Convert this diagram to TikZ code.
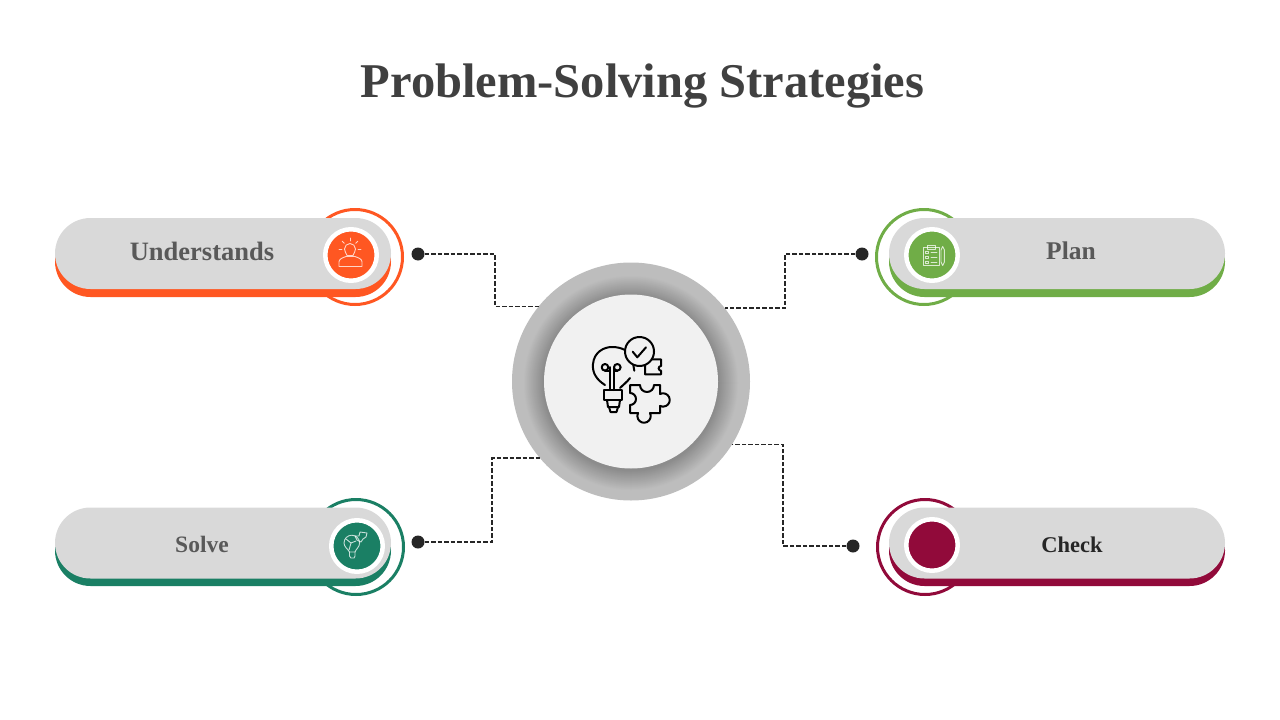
\documentclass[tikz,border=0pt]{standalone}
\usepackage{fontspec}
\setmainfont{Liberation Serif}
\definecolor{txtgrey}{HTML}{595959}
\definecolor{pillgrey}{HTML}{D9D9D9}
\definecolor{hubgrey}{HTML}{BDBDBD}
\definecolor{hubface}{HTML}{F1F1F1}
\definecolor{dotblack}{HTML}{262626}
\definecolor{cunder}{HTML}{FF5722}
\definecolor{cplan}{HTML}{70AD47}
\definecolor{csolve}{HTML}{1A7F64}
\definecolor{ccheck}{HTML}{910A3A}
\tikzset{
  pill/.style={rectangle, rounded corners=35.5pt, minimum width=336pt, minimum height=71pt, inner sep=0pt, outer sep=0pt, fill=#1},
  halo/.style={circle, minimum size=95pt, inner sep=0pt, draw=#1, line width=3pt},
  badge/.style={circle, minimum size=51.5pt, inner sep=0pt, fill=#1, draw=white, line width=4.5pt},
  pin/.style={circle, minimum size=13pt, inner sep=0pt, fill=dotblack},
  link/.style={draw=dotblack, line width=1.5pt, dash pattern=on 4.5pt off 2pt},
  lbl/.style={font=\bfseries\fontsize{#1}{#1}\selectfont, text=txtgrey},
  icon/.style={draw=black, line width=2pt, line cap=round, line join=round},
  mini/.style={draw=white, draw opacity=.75, line width=.9pt, line cap=round, line join=round}
}
\begin{document}
\begin{tikzpicture}[x=1pt,y=-1pt]
\useasboundingbox (0,0) rectangle (1280,720);
\node[font=\bfseries\fontsize{48.5}{48.5}\selectfont, text=black!75] (title) at (642.5,86) {Problem-Solving Strategies};
% hub
\node[circle, minimum size=238pt, inner sep=0pt, outer sep=0pt, fill=hubgrey] (hub) at (631,381.5) {};
\foreach \r in {108,107,...,88}{
  \pgfmathsetmacro{\mixval}{100-26*(108-\r)/20}
  \fill[hubgrey!\mixval!black] (631,383) circle (\r);
}
\node[circle, minimum size=174pt, inner sep=0pt, outer sep=0pt, fill=hubface] (core) at (631,381.5) {};
% connectors
\node[pin] (pinu) at (418,254) {};
\node[pin] (pinp) at (862,254) {};
\node[pin] (pins) at (418,542) {};
\node[pin] (pinc) at (853,546) {};
\coordinate (kneeu) at (495,280);
\coordinate (kneep) at (785,280);
\coordinate (knees) at (492,500);
\coordinate (kneec) at (783,500);
\draw[link] (pinu) -| (kneeu) |- (hub.141.24);
\draw[link] (pinp) -| (kneep) |- (hub.38.76);
\draw[link] (pins) -| (knees) |- (hub.220);
\draw[link] (pinc) -| (kneec) |- (hub.-32.26);
% understands
\node[halo=cunder] (halou) at (355,257) {};
\node[pill=cunder] (baseu) at (223,261.5) {};
\node[pill=pillgrey] (pillu) at (223,253.5) {};
\node[badge=cunder] (badgeu) at (351,255) {};
\node[lbl=26.5] (lblu) at (202,251) {Understands};
% plan
\node[halo=cplan] (halop) at (924,257) {};
\node[pill=cplan] (basep) at (1057,261.5) {};
\node[pill=pillgrey] (pillp) at (1057,253.5) {};
\node[badge=cplan] (badgep) at (932,255) {};
\node[lbl=25.5] (lblp) at (1071,251) {Plan};
% solve
\node[halo=csolve] (halos) at (356,547) {};
\node[pill=csolve] (bases) at (223,550.5) {};
\node[pill=pillgrey] (pills) at (223,543) {};
\node[badge=csolve] (badges) at (357,546) {};
\node[lbl=23.5] (lbls) at (202,544) {Solve};
% check
\node[halo=ccheck] (haloc) at (925,547) {};
\node[pill=ccheck] (basec) at (1057,550.5) {};
\node[pill=pillgrey] (pillc) at (1057,543) {};
\node[badge=ccheck] (badgec) at (932,545) {};
\node[lbl=22.5, text=dotblack] (lblc) at (1072,545) {Check};
% big icon
\draw[icon] (605,385) .. controls (597,380) and (592,373) .. (593,364) .. controls (594,352) and (604,347) .. (612,347) .. controls (617,347) and (621,348) .. (625,350);
\draw[icon] (630,378) .. controls (627,382) and (623,385) .. (620,388);
\draw[icon] (639.5,351.5) circle (14.5);
\draw[icon] (632.7,351.7) -- (637.3,357.3) -- (646,347.3);
\draw[icon] (605,367.3) circle (3.3);
\draw[icon] (617.3,367.3) circle (3.3);
\draw[icon] (605,370.6) -- (610,370.6) (617.3,370.6) -- (614,370.6);
\draw[icon] (610,367) -- (610,390) (614,367) -- (614,390);
\draw[icon] (604,390) rectangle (622,400);
\draw[icon] (607,400) -- (608,407) -- (619,407) -- (620,400);
\draw[icon] (609,407) -- (610.5,412) -- (616.5,412) -- (618,407);
\draw[icon] (633.3,365) -- (634.3,370.7);
\draw[icon] (652,359.3) -- (661,359.3) -- (661,366) arc (-90:-270:2.35) -- (661,374.3) -- (645,374.3) -- (645,365);
\draw[icon] (630,385) -- (640,385) arc (180:0:7) -- (660,385) -- (660,394) arc (-117:117:6.7) -- (660,413) -- (650,413) arc (-27:207:6.7) -- (630,413) -- (630,405) arc (90:-90:6) -- cycle;
% person icon
\draw[mini] (339,266.5) -- (339,262) .. controls (339,259) and (342,258) .. (346,256.5) -- (355,256.5) .. controls (359,258) and (362,259) .. (362,262) -- (362,266.5) -- cycle;
\draw[mini] (347,255.5) .. controls (346,252.5) and (344.5,251.5) .. (344.5,249) arc (180:360:5.5) .. controls (355.5,251.5) and (354,252.5) .. (353,255.5) -- cycle;
\foreach \a in {0,-45,-90,-135,180}{
  \draw[mini] (350,249) ++(\a:8) -- ++(\a:3);
}
% clipboard icon
\draw[mini] (923,247.5) rectangle (939,265);
\draw[mini] (927,245) rectangle (935,249);
\foreach \y in {252,257,262}{
  \draw[mini] (925.5,\y-1) rectangle (928.5,\y+1);
  \draw[mini] (931,\y) -- (937,\y);
}
\draw[mini] (941,250) -- (941,262) -- (942.7,265.5) -- (944.4,262) -- (944.4,250) -- (942.7,246.5) -- cycle;
% bulb and puzzle icon
\draw[mini] (349.5,552) .. controls (348,549) and (344,547) .. (344,543) arc (180:360:7.8) .. controls (359.6,547) and (356,549) .. (355,552) -- cycle;
\draw[mini] (349.5,552) -- (349.5,556) -- (351,558) -- (354,558) -- (355,556) -- (355,552);
\draw[mini] (346,539) -- (351,543) -- (349,550);
\draw[mini] (351,543) -- (356,541);
\draw[mini] (355,536) -- (359,536) -- (360,532) -- (367,533) -- (366,537) -- (363,539) -- (361,542) -- (357,540) -- cycle;
\end{tikzpicture}
\end{document}
